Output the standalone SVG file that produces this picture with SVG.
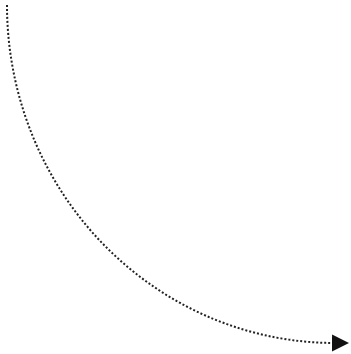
<svg xmlns="http://www.w3.org/2000/svg" width="351" height="354" viewBox="0 0 351 354">
<style>.conn{fill:none;stroke:#222;stroke-width:2;stroke-dasharray:2,2}</style>
<defs><marker id="ah" markerWidth="18" markerHeight="18" refX="1" refY="8.5" orient="auto" markerUnits="userSpaceOnUse"><polygon points="0,0 17,8.5 0,17" fill="#111"/></marker></defs>
<rect width="351" height="354" fill="#fff"/>
<g id="connectors">
<path class="conn" d="M7,5 A328,338 0 0 0 333,343" marker-end="url(#ah)"/>
</g>
</svg>
